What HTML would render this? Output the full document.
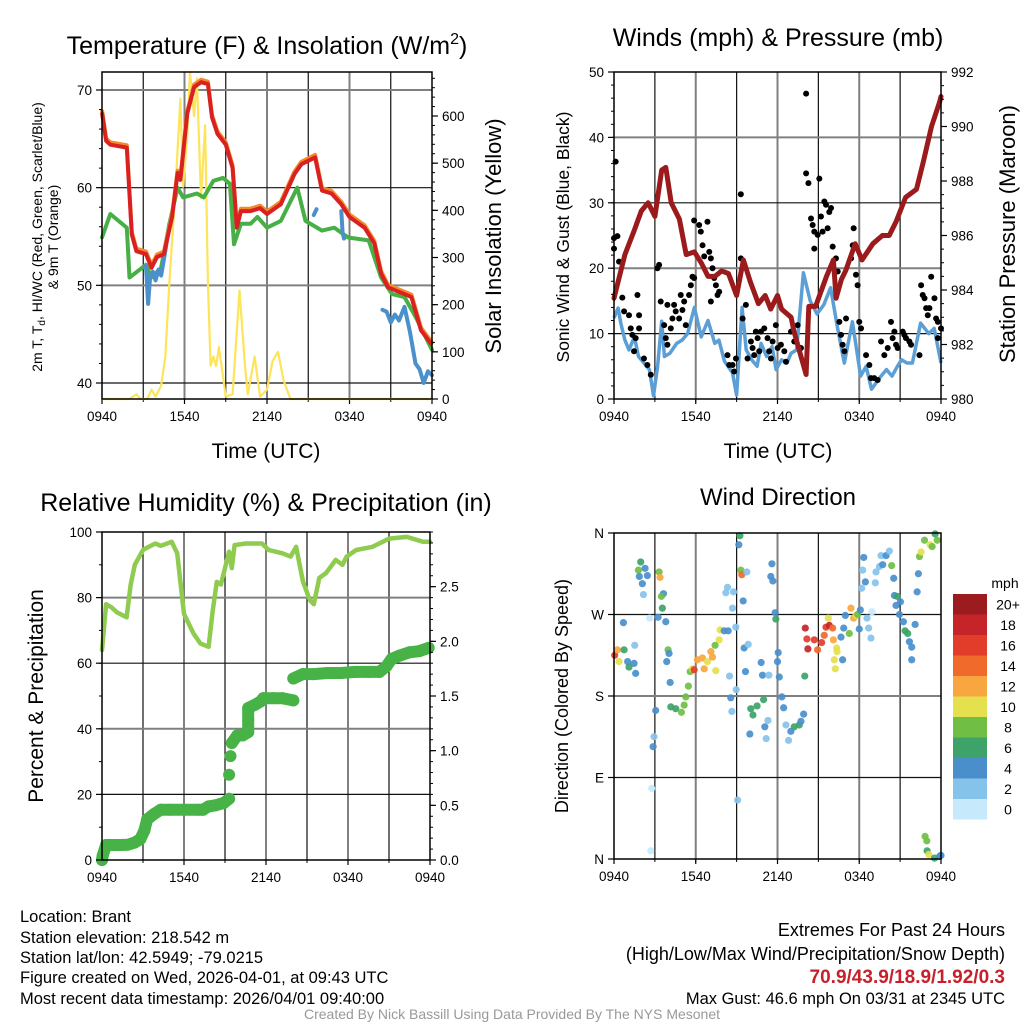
<!DOCTYPE html>
<html><head><meta charset="utf-8"><title>Mesonet Station Charts</title>
<style>
html,body{margin:0;padding:0;background:#fff;}
body{width:1024px;height:1024px;overflow:hidden;font-family:"Liberation Sans",Arial,sans-serif;}
svg text{font-family:"Liberation Sans",Arial,sans-serif;fill:#000;}
</style></head>
<body>
<svg id="chart" xmlns="http://www.w3.org/2000/svg" width="1024" height="1024" viewBox="0 0 1024 1024">
<g id="g1"></g>
<g id="g2"></g>
<g id="g3"></g>
<g id="g4"></g>
<g id="footer">
<text x="20" y="922" font-size="16.5">Location: Brant</text>
<text x="20" y="943" font-size="16.5">Station elevation: 218.542 m</text>
<text x="20" y="963" font-size="16.5">Station lat/lon: 42.5949; -79.0215</text>
<text x="20" y="983" font-size="16.5">Figure created on Wed, 2026-04-01, at 09:43 UTC</text>
<text x="20" y="1004" font-size="16.5">Most recent data timestamp: 2026/04/01 09:40:00</text>
<text x="1005" y="936" font-size="18" text-anchor="end">Extremes For Past 24 Hours</text>
<text x="1005" y="960" font-size="18" text-anchor="end">(High/Low/Max Wind/Precipitation/Snow Depth)</text>
<text x="1005" y="983" font-size="19" font-weight="bold" text-anchor="end" style="fill:#c8202a">70.9/43.9/18.9/1.92/0.3</text>
<text x="1005" y="1004" font-size="16.5" text-anchor="end">Max Gust: 46.6 mph On 03/31 at 2345 UTC</text>
<text x="512" y="1019" font-size="14" text-anchor="middle" style="fill:#999">Created By Nick Bassill Using Data Provided By The NYS Mesonet</text>
</g>
</svg>
<script>
// ---------- DATA ----------
const xTickLabels = ["0940","1540","2140","0340","0940"];
// Panel 1: temperature (hours since 0940)
const tempH = [0,0.3,0.6,1.8,2.17,2.5,3.2,3.6,4.0,4.5,5.1,5.5,5.7,6.2,6.7,7.2,7.7,8.0,8.4,9.0,9.5,9.8,10.1,10.8,11.5,12.0,13.0,14.0,14.5,15.5,16.0,16.7,17.4,18.0,19.1,19.8,20.3,20.8,21.3,22.0,22.5,23.2,24];
const tempV = [67.7,64.8,64.4,64.1,55.2,53.5,53.2,51.8,52.9,53.2,57.0,61.5,60.8,67.6,70.3,70.8,70.6,67.2,65.5,64.4,62.0,55.9,57.6,57.6,57.9,57.3,58.3,61.4,62.4,63.1,59.7,59.4,58.3,57.0,55.9,54.3,51.2,49.8,49.5,49.1,48.8,45.4,43.9];
const dewH = [0,0.6,1.8,2.0,3.2,3.6,4.3,4.9,5.5,5.9,6.9,7.4,8.1,8.8,9.3,9.6,10.1,10.8,11.3,12.0,13.0,14.2,14.8,16.0,16.9,17.9,19.4,20.3,21.1,22.0,22.8,24];
const dewV = [54.9,57.3,55.9,50.8,52.1,50.8,51.8,56.3,60.0,59.0,59.4,59.0,60.7,61.0,60.4,54.2,56.3,56.3,57.0,55.9,56.6,60.0,56.6,55.6,55.9,54.9,54.6,50.8,49.1,48.8,46.8,43.4];
const wcH = [3.2,3.35,3.5,3.7,3.9,4.1,4.3,4.6,4.9,null,15.4,15.6,null,17.4,17.5,17.6,null,20.4,20.7,21.0,21.3,21.6,22.0,22.4,22.8,23.1,23.4,23.7,24];
const wcV = [52.0,48.1,50.8,51.4,50.5,51.6,51.0,53.5,56.3,null,57.2,57.8,null,57.6,55.4,54.8,null,47.5,47.3,46.2,47.0,46.4,47.8,45.2,42.0,41.4,40.0,41.2,40.8];
const solH = [0,2,2.5,2.8,3.3,3.6,3.9,4.3,4.6,4.9,5.3,5.7,5.9,6.2,6.4,6.7,6.9,7.2,7.5,7.7,7.9,8.1,8.3,8.5,8.7,9.0,9.5,10.0,10.4,10.6,11.1,11.5,12.0,12.4,12.8,13.2,13.7,24];
const solV = [0,0,10,0,0,20,5,28,90,248,425,637,450,560,693,600,680,425,580,248,71,90,70,110,70,5,10,230,70,10,90,5,20,80,100,40,0,0];
// Panel 2: winds & pressure
const presH = [0,0.3,0.8,1.5,2.0,2.5,3.0,3.5,3.8,4.2,4.8,5.3,5.9,6.4,6.9,7.4,7.9,8.4,9.0,9.5,10.0,10.6,11.1,11.5,12.0,12.3,13.0,13.2,13.7,14.1,14.3,14.8,15.6,16.1,16.3,16.7,17.0,17.7,18.2,19.0,19.7,20.2,20.7,21.4,22.2,22.7,23.3,23.9,24];
const presV = [983.7,984.3,985.3,986.2,986.9,987.2,986.7,988.4,988.5,987.2,986.6,985.3,985.4,985.0,984.5,984.5,984.7,984.6,983.8,985.1,984.3,983.5,983.8,983.3,983.8,983.3,983.0,982.5,981.6,980.9,983.4,983.4,984.5,985.1,983.7,984.4,984.7,985.7,985.1,985.7,986.0,986.0,986.5,987.4,987.7,988.7,990.0,990.9,991.1];
const windH = [0,0.3,0.5,0.8,1.1,1.5,1.8,2.2,2.6,2.9,3.2,3.5,3.7,4.1,4.6,5.0,5.4,5.9,6.4,6.9,7.4,7.7,8.1,8.7,9.0,9.4,9.7,10.1,10.5,10.8,11.2,11.6,11.9,12.3,12.7,13.0,13.4,13.9,14.4,14.9,15.4,15.9,16.4,16.9,17.5,18.1,18.5,18.9,19.6,20.0,20.4,20.8,21.1,21.5,21.9,22.5,23.1,23.5,24];
const windV = [12.4,13.9,11.6,9.0,7.5,9.5,6.5,5.5,4.5,0.5,5.0,11.9,6.5,7.0,8.5,9.0,10.0,14.0,9.5,12.0,8.5,9.0,5.8,4.0,0.6,14.0,7.5,6.0,5.0,8.5,6.5,8.0,4.5,6.0,5.5,7.0,7.5,19.3,15.0,13.0,14.4,17.0,11.0,5.5,11.8,3.5,5.0,1.5,3.5,4.5,3.5,5.0,6.0,5.5,5.5,11.6,10.0,10.8,5.5];
const gustH = [0,0.12,0.25,0,0.37,0.61,0.74,1.1,1.23,1.35,1.59,1.47,1.72,1.84,1.84,2.2,2.45,2.7,3.19,3.31,3.43,3.68,3.8,3.92,4.17,4.29,3.92,4.41,4.53,4.78,4.9,5.02,5.15,5.27,5.51,5.64,5.76,5.88,5.88,6.25,6.37,6.5,6.62,6.86,6.99,7.11,7.23,7.35,7.48,7.6,7.72,7.11,8.33,8.46,8.7,8.82,8.95,9.31,9.31,9.44,9.68,9.8,10.05,10.17,10.29,10.41,10.54,10.66,10.78,11.03,11.27,11.39,11.52,11.64,11.88,12.01,12.25,12.5,12.62,12.99,13.23,13.48,13.72,14.1,14.1,14.27,14.46,14.58,14.7,14.7,14.95,15.07,15.19,15.31,15.44,15.56,15.68,15.8,15.93,16.05,16.29,16.42,16.54,16.66,16.78,16.91,17.03,17.4,17.52,17.59,17.76,17.88,18.0,18.13,18.5,18.74,18.86,19.1,19.35,19.6,19.84,20.09,20.33,20.45,20.58,20.7,20.82,21.19,21.31,21.43,21.68,21.8,22.42,22.54,22.66,22.79,22.91,23.03,23.15,23.28,23.52,23.64,23.77,24.0,23.77];
const gustV = [24.6,36.3,24.9,23.0,21.0,15.5,13.4,12.8,10.8,9.8,9.3,7.3,15.9,12.8,10.8,6.2,5.2,3.7,20.0,20.5,14.9,11.3,9.3,8.3,10.8,12.3,14.4,14.4,13.4,12.3,15.9,13.6,14.9,11.3,15.9,17.4,18.7,18.5,27.3,26.6,25.6,23.5,21.8,27.1,22.5,21.5,20.0,18.5,17.4,15.9,16.4,14.9,6.7,5.2,5.2,4.2,6.2,31.3,21.5,12.3,14.4,6.2,8.8,7.8,6.7,10.3,9.3,7.3,10.3,10.8,9.3,7.3,6.2,8.8,11.3,7.8,8.3,7.3,5.7,10.3,8.8,11.3,7.8,46.7,34.5,33.0,27.6,26.6,25.6,23.0,25.1,33.7,27.9,25.6,30.2,29.7,26.1,28.6,29.2,23.3,21.5,19.5,11.8,9.8,8.3,7.3,12.3,21.5,23.5,26.1,19.0,17.4,11.8,10.8,6.7,5.2,3.2,3.2,2.9,8.8,6.7,7.8,11.8,9.3,10.3,8.3,7.8,10.3,9.8,9.3,8.8,8.3,6.7,17.4,15.9,15.4,13.9,12.8,13.9,18.7,15.4,12.3,11.8,10.8,9.3,14.4];
// Panel 3: RH and precipitation
const rhH = [0,0.3,0.7,1.1,1.8,2.1,2.4,3.0,3.2,3.9,4.3,5.1,5.5,6.0,6.7,7.2,7.8,8.1,8.4,8.7,9.3,9.5,9.7,10.5,11.7,12.2,13.2,13.8,14.2,14.7,15.2,15.5,15.9,16.4,17.1,17.6,17.9,18.6,19.8,21.0,22.3,23.5,24];
const rhV = [64,78,77,75.5,74,84,90,94.5,95,96.5,95.8,97,93.5,75,69,66,65,76,84.8,84,94,89,96,96.5,96.5,94.5,93.5,92.5,95.5,85,79.3,78,86,87.5,91.5,90,92.5,94.5,95.5,98,98.5,97,97];
const prcH = [0,0.05,0.3,0.8,1.3,1.9,2.4,2.8,3.1,3.3,3.8,4.3,5.0,6.0,7.0,7.4,7.8,8.3,8.9,9.3,9.3,9.4,9.5,9.9,10.3,10.7,10.7,10.7,11.2,11.6,11.8,12.5,13.2,14.0,14.0,14.7,15.5,16.5,17.5,18.5,19.5,20.3,20.8,21.2,21.8,22.5,23.2,23.9];
const prcV = [0,0.04,0.137,0.137,0.137,0.14,0.16,0.19,0.27,0.37,0.42,0.46,0.46,0.46,0.46,0.46,0.49,0.50,0.52,0.56,0.78,0.95,1.07,1.14,1.14,1.17,1.28,1.39,1.42,1.45,1.48,1.48,1.48,1.46,1.66,1.70,1.70,1.71,1.71,1.72,1.72,1.72,1.77,1.84,1.87,1.90,1.91,1.94];
// Panel 4: wind direction (hours, degrees, speed mph)
const dirH = [0.05,0.25,0.37,0.74,0.69,1.0,1.1,1.47,1.59,1.52,1.96,1.79,2.28,1.86,2.08,2.16,2.45,3.31,3.38,3.63,3.48,3.55,2.62,3.23,3.8,3.97,4.04,3.87,4.12,3.06,2.94,2.87,2.77,2.7,4.17,4.53,4.95,5.15,5.27,5.46,5.59,5.76,5.88,6.13,6.49,6.62,6.86,7.11,7.23,7.42,7.72,7.47,7.79,8.09,8.38,8.94,8.7,8.21,8.33,8.77,9.16,9.24,9.31,9.38,9.75,9.48,9.55,9.85,9.65,8.48,8.97,8.57,8.65,9.07,9.97,10.04,10.2,10.5,10.8,10.9,10.98,11.37,11.07,11.3,11.17,11.59,11.51,11.66,11.83,11.88,12.05,12.0,12.13,12.32,12.45,12.62,12.98,13.23,13.6,13.72,13.92,12.81,14.0,14.04,14.16,14.23,14.7,14.94,15.24,15.43,15.56,15.8,16.05,15.73,16.1,16.34,16.37,16.17,16.24,16.78,16.66,16.98,16.86,17.27,17.39,17.59,17.76,17.88,18.08,18.0,18.18,18.25,18.33,18.45,18.57,18.69,18.86,18.93,19.18,19.23,19.48,19.72,19.6,19.97,20.21,20.38,20.53,20.58,20.78,21.02,20.7,20.95,21.24,21.36,21.56,21.68,21.85,21.85,22.1,22.25,22.34,22.42,22.54,22.79,23.2,23.35,23.57,23.72,22.83,22.96,22.98,23.1,23.52,23.9,24.0];
const dirV = [225,231,218,231,261,218,212,216,205,236,328,319,321,312,304,292,313,317,311,293,290,277,266,267,262,231,227,218,195,164,135,124,78,9,168,166,162,170,179,191,207,210,209,220,222,210,218,229,223,236,242,208,253,252,252,256,277,294,300,295,347,357,319,314,317,285,233,237,207,202,187,178,163,65,138,166,159,169,217,203,176,203,146,153,133,326,312,307,272,265,228,218,201,179,167,148,141,146,148,152,160,131,202,255,243,232,242,231,239,247,256,258,255,266,242,233,229,220,210,220,245,269,255,249,277,266,269,270,275,254,299,319,333,306,266,255,244,273,305,317,323,325,335,335,340,324,310,291,290,284,280,270,262,252,249,240,234,220,259,295,315,334,339,352,347,345,359,352,25,20,9,5,1,3,4];
const dirS = [16,12,10,6,4,4,6,4,4,2,6,8,4,4,4,2,4,8,12,4,8,6,0,4,4,8,4,4,4,4,2,4,0,0,6,6,8,8,8,8,8,10,16,12,12,12,10,12,12,8,10,10,10,4,4,2,2,2,2,2,4,6,8,14,2,4,4,2,4,2,2,4,2,2,4,6,6,6,4,4,6,2,4,2,2,4,4,4,4,6,4,4,4,4,4,2,4,6,6,4,4,2,6,18,16,18,16,14,16,14,16,18,14,10,12,10,10,10,10,4,4,4,4,8,12,12,10,8,4,4,2,2,4,4,2,2,2,0,2,2,2,4,2,4,2,8,4,4,6,4,4,4,4,6,6,4,4,4,4,4,4,8,10,8,10,8,6,8,8,8,6,10,6,4,4];
const cbLabels = ["0","2","4","6","8","10","12","14","16","18","20+"];
const cbColors = ["#c6e9fb","#85c3ea","#4a8fcc","#3da36a","#70bf44","#e4e04e","#f8a640","#f06a2b","#e23c2b","#c52428","#9b1b1f"];

// ---------- HELPERS ----------
const NS = "http://www.w3.org/2000/svg";
function mk(parent, tag, attrs, txt){
  const e = document.createElementNS(NS, tag);
  for (const k in attrs) e.setAttribute(k, attrs[k]);
  if (txt !== undefined) e.textContent = txt;
  parent.appendChild(e);
  return e;
}
function lin(d0,d1,r0,r1){ return v => r0 + (v-d0)*(r1-r0)/(d1-d0); }
function pathFrom(hs, vs, sx, sy){
  let d = "", pen = false;
  for (let i=0;i<hs.length;i++){
    if (hs[i]===null || vs[i]===null){ pen=false; continue; }
    d += (pen?"L":"M") + sx(hs[i]).toFixed(1) + "," + sy(vs[i]).toFixed(1);
    pen = true;
  }
  return d;
}
function frame(g, x0, x1, y0, y1, hGrid, sy){
  const sx = lin(0,24,x0,x1);
  for (let h=3; h<24; h+=3){
    const l = mk(g,"line",{x1:sx(h),x2:sx(h),y1:y0,y2:y1,stroke:(h%6===0?"#808080":"#111"),"stroke-width":(h%6===0?2:1.2)});
    
    
  }
  hGrid.forEach((v,i) => {
    const l = mk(g,"line",{x1:x0,x2:x1,y1:sy(v),y2:sy(v),stroke:(i%2?"#808080":"#111"),"stroke-width":(i%2?2:1.2)});
    
    
  });
  xTickLabels.forEach((t,i) => {
    const x = sx(i*6);
    const tk = mk(g,"line",{x1:x,x2:x,y1:y1,y2:y1+5,stroke:"#000","stroke-width":1.2});
    
    
    const tx = mk(g,"text",{x:x,y:y1+22,"font-size":13.5,"text-anchor":"middle"},t);
    
    
  });
  for (let h=0; h<=24; h+=3){
    const tk = mk(g,"line",{x1:sx(h),x2:sx(h),y1:y1,y2:y1+3,stroke:"#000","stroke-width":1});
    
    
  }
  return sx;
}
function border(g,x0,x1,y0,y1){
  const r = mk(g,"rect",{x:x0,y:y0,width:x1-x0,height:y1-y0,fill:"none",stroke:"#000","stroke-width":1.5});
  
  
}
function yAxis(g, side, x, sy, majors, labels, minors){
  const dir = side==="left" ? -1 : 1;
  majors.forEach((v,i)=>{
    const t = mk(g,"line",{x1:x,x2:x+dir*6,y1:sy(v),y2:sy(v),stroke:"#000","stroke-width":1.2});
    
    
    const tx = mk(g,"text",{x:x+dir*10,y:sy(v)+5,"font-size":13.5,"text-anchor":(side==="left"?"end":"start")},labels[i]);
    
    
  });
  minors.forEach(v=>{
    const t = mk(g,"line",{x1:x,x2:x+dir*3,y1:sy(v),y2:sy(v),stroke:"#000","stroke-width":1});
    
    
  });
}
function rangeStep(a,b,s){ const r=[]; for(let v=a; v<=b+1e-9; v+=s) r.push(+v.toFixed(4)); return r; }
function label(g, x, y, size, txt, rot, name){
  const t = mk(g,"text",{x:x,y:y,"font-size":size,"text-anchor":"middle",transform:(rot?`rotate(-90 ${x} ${y})`:"")},txt);
  
  
  return t;
}

// ---------- PANEL 1 ----------
(function(){
  const g = document.getElementById("g1");
  const x0=102,x1=432,y0=72,y1=399;
  const sy = lin(40,70,383,90);
  const ss = lin(0,600,399,116);
  const sx = frame(g,x0,x1,y0,y1,[40,50,60,70],sy);
  const sol = mk(g,"path",{d:pathFrom(solH,solV,sx,ss),fill:"none",stroke:"#fde45a","stroke-width":2.2,"stroke-linejoin":"round"});
  
  
  const dew = mk(g,"path",{d:pathFrom(dewH,dewV,sx,sy),fill:"none",stroke:"#46b046","stroke-width":4,"stroke-linejoin":"round","stroke-linecap":"round"});
  
  
  const wc = mk(g,"path",{d:pathFrom(wcH,wcV,sx,sy),fill:"none",stroke:"#4a90cc","stroke-width":4,"stroke-linejoin":"round","stroke-linecap":"round"});
  
  
  const t9 = mk(g,"path",{d:pathFrom(tempH,tempV.map(v=>v+0.25),sx,sy),fill:"none",stroke:"#f58a2a","stroke-width":4,"stroke-linejoin":"round"});
  
  
  const t2 = mk(g,"path",{d:pathFrom(tempH,tempV,sx,sy),fill:"none",stroke:"#d92121","stroke-width":4,"stroke-linejoin":"round"});
  
  
  border(g,x0,x1,y0,y1);
  yAxis(g,"left",x0,sy,[40,50,60,70],["40","50","60","70"],rangeStep(40,70,2));
  yAxis(g,"right",x1,ss,[0,100,200,300,400,500,600],["0","100","200","300","400","500","600"],rangeStep(0,680,20));
  const title = mk(g,"text",{x:267,y:54,"font-size":25,"text-anchor":"middle"});
  
  
  title.innerHTML = 'Temperature (F) &amp; Insolation (W/m<tspan dy="-10" font-size="16">2</tspan><tspan dy="10">)</tspan>';
  label(g,266,458,21,"Time (UTC)",false,"x-axis-title");
  const yl = mk(g,"text",{x:42,y:237,"font-size":14,"text-anchor":"middle",transform:"rotate(-90 42 237)"});
  
  
  yl.innerHTML = '2m T, T<tspan dy="3" font-size="10">d</tspan><tspan dy="-3">, HI/WC (Red, Green, Scarlet/Blue)</tspan>';
  label(g,58,237,14,"& 9m T (Orange)",true,"left-y-axis-title-line2");
  label(g,501,236,22,"Solar Insolation (Yellow)",true,"right-y-axis-title");
})();

// ---------- PANEL 2 ----------
(function(){
  const g = document.getElementById("g2");
  const x0=614,x1=941,y0=72,y1=399;
  const sy = lin(0,50,399,72);
  const sp = lin(980,992,399,72);
  const sx = frame(g,x0,x1,y0,y1,[10,20,30,40],sy);
  const w = mk(g,"path",{d:pathFrom(windH,windV,sx,sy),fill:"none",stroke:"#5b9fd6","stroke-width":3.5,"stroke-linejoin":"round"});
  
  
  gustH.forEach((h,i)=>{
    const c = mk(g,"circle",{cx:sx(h),cy:sy(gustV[i]),r:3,fill:"#000"});
    
    
  });
  const p = mk(g,"path",{d:pathFrom(presH,presV,sx,sp),fill:"none",stroke:"#9b1a1c","stroke-width":5,"stroke-linejoin":"round","stroke-linecap":"round"});
  
  
  border(g,x0,x1,y0,y1);
  yAxis(g,"left",x0,sy,[0,10,20,30,40,50],["0","10","20","30","40","50"],rangeStep(0,50,2));
  yAxis(g,"right",x1,sp,[980,982,984,986,988,990,992],["980","982","984","986","988","990","992"],rangeStep(980,992,0.5));
  label(g,778,46,25,"Winds (mph) & Pressure (mb)",false,"winds-title");
  label(g,778,458,21,"Time (UTC)",false,"x-axis-title");
  label(g,569,237,17.5,"Sonic Wind & Gust (Blue, Black)",true,"left-y-axis-title");
  label(g,1015,234,22,"Station Pressure (Maroon)",true,"right-y-axis-title");
})();

// ---------- PANEL 3 ----------
(function(){
  const g = document.getElementById("g3");
  const x0=102,x1=430,y0=532,y1=860;
  const sy = lin(0,100,860,532);
  const sp = lin(0,3,860,532);
  const sx = frame(g,x0,x1,y0,y1,[20,40,60,80],sy);
  const rh = mk(g,"path",{d:pathFrom(rhH,rhV,sx,sy),fill:"none",stroke:"#8ecb4e","stroke-width":4.5,"stroke-linejoin":"round","stroke-linecap":"round"});
  
  
  let d = "";
  for (let i=1;i<prcH.length;i++){
    if (Math.abs(prcV[i]-prcV[i-1])<0.12) d += "M"+sx(prcH[i-1]).toFixed(1)+","+sp(prcV[i-1]).toFixed(1)+"L"+sx(prcH[i]).toFixed(1)+","+sp(prcV[i]).toFixed(1);
  }
  const pl = mk(g,"path",{d:d,fill:"none",stroke:"#47b347","stroke-width":12,"stroke-linecap":"round","stroke-linejoin":"round"});
  
  
  prcH.forEach((h,i)=>{
    const c = mk(g,"circle",{cx:sx(h),cy:sp(prcV[i]),r:6,fill:"#47b347"});
    
    
  });
  border(g,x0,x1,y0,y1);
  yAxis(g,"left",x0,sy,[0,20,40,60,80,100],["0","20","40","60","80","100"],rangeStep(0,100,10));
  yAxis(g,"right",x1,sp,[0,0.5,1,1.5,2,2.5],["0.0","0.5","1.0","1.5","2.0","2.5"],rangeStep(0,3,0.1));
  label(g,266,511,25,"Relative Humidity (%) & Precipitation (in)",false,"humidity-title");
  label(g,43,696,21,"Percent & Precipitation",true,"left-y-axis-title");
})();

// ---------- PANEL 4 ----------
(function(){
  const g = document.getElementById("g4");
  const x0=614,x1=941,y0=533,y1=859;
  const sy = lin(0,360,859,533);
  const sx = frame(g,x0,x1,y0,y1,[90,180,270],sy);
  dirH.forEach((h,i)=>{
    const idx = Math.min(10, Math.max(0, Math.round(dirS[i]/2)));
    const c = mk(g,"circle",{cx:sx(h),cy:sy(dirV[i]),r:3.6,fill:cbColors[idx],"fill-opacity":0.92});
    
    
  });
  border(g,x0,x1,y0,y1);
  yAxis(g,"left",x0,sy,[0,90,180,270,360],["N","E","S","W","N"],[]);
  label(g,778,505,24,"Wind Direction",false,"wind-direction-title");
  label(g,568,696,18,"Direction (Colored By Speed)",true,"left-y-axis-title");
  // colorbar
  const cbTop=594, cbH=20.5;
  for (let k=0;k<cbLabels.length;k++){
    const j = cbLabels.length-1-k;
    const r = mk(g,"rect",{x:953,y:cbTop+k*cbH,width:34,height:cbH,fill:cbColors[j]});
    
    
    const t = mk(g,"text",{x:1008,y:cbTop+k*cbH+cbH/2+5,"font-size":14,"text-anchor":"middle"},cbLabels[j]);
    
    
  }
  const u = mk(g,"text",{x:1005,y:588,"font-size":14,"text-anchor":"middle"},"mph");
  
  
})();
</script>
</body></html>
